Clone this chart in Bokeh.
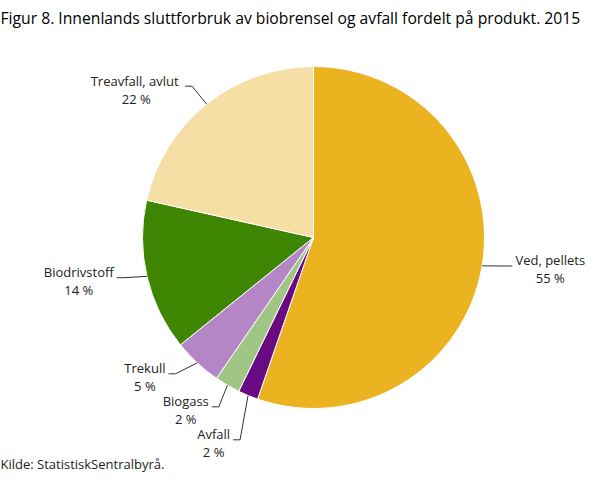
import math
from bokeh.plotting import figure
from bokeh.models import Range1d, ColumnDataSource
from bokeh.core.properties import value
from bokeh.embed import file_html
from bokeh.resources import INLINE

# ---- data ----
title_text = "Figur 8. Innenlands sluttforbruk av biobrensel og avfall fordelt på produkt. 2015"
source_text = "Kilde: StatistiskSentralbyrå."
names = ["Ved, pellets", "Avfall", "Biogass", "Trekull", "Biodrivstoff", "Treavfall,  avlut"]
values = [55.3, 1.9, 2.4, 4.6, 14.3, 21.5]
colors = ["#ECB321", "#6A0A82", "#9FC685", "#B586C5", "#3E8602", "#F6DFA5"]

W, H = 592, 473
FONT = "Open Sans"

p = figure(width=W, height=H, x_range=Range1d(0, W), y_range=Range1d(0, H),
           output_backend="svg", toolbar_location=None, min_border=0)
p.axis.visible = False
p.xgrid.visible = False
p.ygrid.visible = False
p.outline_line_color = None
p.background_fill_color = "white"

cx, cy, r = 313, H - 237, 171
total = sum(values)
cum = 0.0
starts, ends, mids = [], [], []
for v in values:
    t0 = cum / total * 2 * math.pi
    cum += v
    t1 = cum / total * 2 * math.pi
    starts.append(math.pi / 2 - t0)
    ends.append(math.pi / 2 - t1)
    mids.append((t0 + t1) / 2)

src = ColumnDataSource(dict(x=[cx] * len(values), y=[cy] * len(values),
                            start=starts, end=ends, color=colors))
p.wedge(x="x", y="y", radius=r, radius_units="screen", start_angle="start",
        end_angle="end", direction="clock", fill_color="color",
        line_color="white", line_width=1, source=src)

# ---- labels with connectors ----
RL, RB, GAP = 190, 194, 33
items = []
for i, m in enumerate(mids):
    ex = cx + r * math.sin(m)
    ey = cy + r * math.cos(m)
    ly = cy + RL * math.cos(m) + 3
    side = 1 if math.sin(m) > 0 else -1
    items.append(dict(i=i, ex=ex, ey=ey, ly=ly, side=side))

for side in (1, -1):
    grp = sorted([it for it in items if it["side"] == side], key=lambda d: -d["ly"])
    for a, b in zip(grp, grp[1:]):
        if b["ly"] > a["ly"] - GAP:
            b["ly"] = a["ly"] - GAP

xs, ys = [], []
L = dict(x=[], y=[], t=[])
R = dict(x=[], y=[], t=[])
for it in items:
    dy = it["ly"] - cy
    h = math.sqrt(max(RB * RB - dy * dy, 0))
    if it["side"] < 0:
        bx = min(cx - h, it["ex"] - 8)
        ax = bx - 7
        tgt = L
        tx = ax - 3
    else:
        bx = max(cx + h, it["ex"] + 8)
        ax = bx + 7
        tgt = R
        tx = ax + 3
    xs.append([it["ex"], bx, ax])
    ys.append([it["ey"], it["ly"], it["ly"]])
    i = it["i"]
    tgt["x"].append(tx)
    tgt["y"].append(it["ly"])
    tgt["t"].append(f"{names[i]}\n{round(values[i] / total * 100)} %")

p.multi_line(xs=xs, ys=ys, line_color="#333333", line_width=1)

common = dict(text_font=value(FONT), text_font_size="13px", text_color="#222222",
              text_align="center", text_line_height=1.0, y_offset=-14.5)
p.text(x="x", y="y", text="t", source=ColumnDataSource(L), anchor="top_right", **common)
p.text(x="x", y="y", text="t", source=ColumnDataSource(R), anchor="top_left", **common)

# ---- title and source ----
p.text(x=[0], y=[H - 17], text=[title_text], text_font=value(FONT), text_font_size="15.7px",
       text_color="#000000", text_align="left", text_baseline="middle")
p.text(x=[0], y=[1], text=[source_text], text_font=value(FONT), text_font_size="13px",
       text_color="#222222", text_align="left", text_baseline="bottom")

open("out.html", "w").write(file_html(p, INLINE))
